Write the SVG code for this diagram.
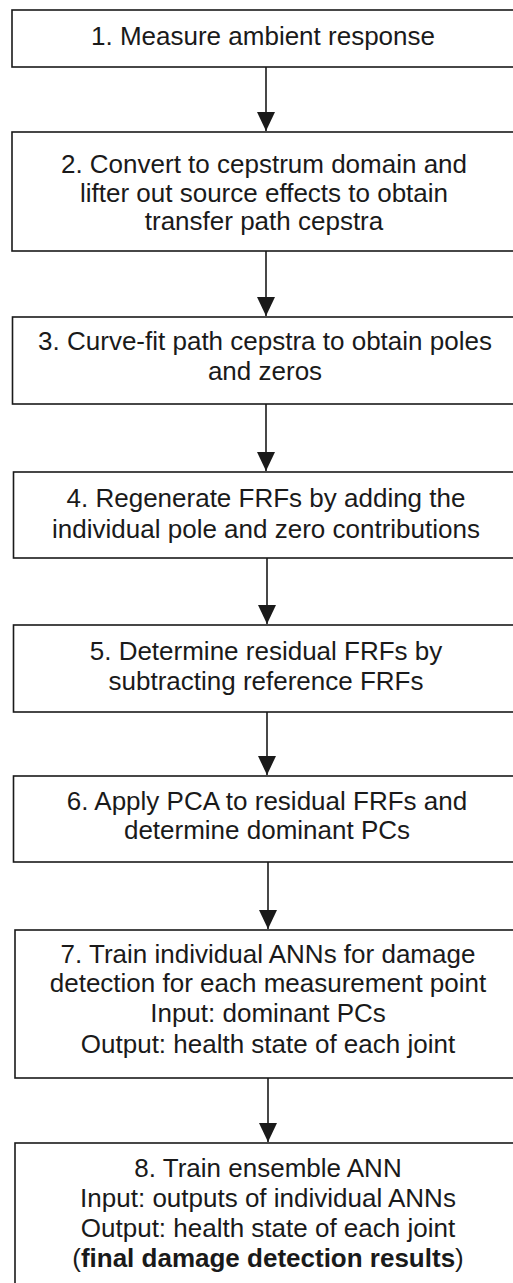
<svg xmlns="http://www.w3.org/2000/svg" width="513" height="1283" viewBox="0 0 513 1283">
<style>
.box{fill:#fff;stroke:#1a1a1a;stroke-width:1.6}
.t{font-family:"Liberation Sans",Arial,sans-serif;font-size:26px;fill:#1a1a1a;text-anchor:middle}
.b{font-weight:bold}
.c{stroke:#1a1a1a;stroke-width:1.6;fill:none}
</style>
<defs>
<marker id="ah" markerWidth="19" markerHeight="18" refX="19" refY="9" orient="auto" markerUnits="userSpaceOnUse" viewBox="0 0 19 18">
<path d="M0,0 L19,9 L0,18 Z" fill="#1a1a1a"/>
</marker>
</defs>
<rect width="513" height="1283" fill="#fff"/>
<g id="n1"><rect class="box" x="12" y="10" width="510" height="57"/><text class="t" x="263" y="45">1. Measure ambient response</text></g>
<g id="n2"><rect class="box" x="12" y="132" width="510" height="119"/><text class="t" x="264" y="173">2. Convert to cepstrum domain and</text><text class="t" x="264" y="202">lifter out source effects to obtain</text><text class="t" x="264" y="230">transfer path cepstra</text></g>
<g id="n3"><rect class="box" x="12.5" y="317" width="510" height="87"/><text class="t" x="265" y="350">3. Curve-fit path cepstra to obtain poles</text><text class="t" x="265" y="380">and zeros</text></g>
<g id="n4"><rect class="box" x="13.5" y="472" width="510" height="86"/><text class="t" x="266" y="507">4. Regenerate FRFs by adding the</text><text class="t" x="266" y="538">individual pole and zero contributions</text></g>
<g id="n5"><rect class="box" x="13.5" y="625" width="510" height="87"/><text class="t" x="266" y="660">5. Determine residual FRFs by</text><text class="t" x="266" y="690">subtracting reference FRFs</text></g>
<g id="n6"><rect class="box" x="13.5" y="776" width="510" height="86"/><text class="t" x="267" y="810">6. Apply PCA to residual FRFs and</text><text class="t" x="267" y="839">determine dominant PCs</text></g>
<g id="n7"><rect class="box" x="15" y="930" width="510" height="148"/><text class="t" x="268" y="963">7. Train individual ANNs for damage</text><text class="t" x="268" y="992">detection for each measurement point</text><text class="t" x="268" y="1022">Input: dominant PCs</text><text class="t" x="268" y="1053">Output: health state of each joint</text></g>
<g id="n8"><rect class="box" x="15" y="1143" width="510" height="150"/><text class="t" x="268" y="1177">8. Train ensemble ANN</text><text class="t" x="268" y="1207">Input: outputs of individual ANNs</text><text class="t" x="268" y="1237">Output: health state of each joint</text><text class="t" x="268" y="1267">(<tspan class="b">final damage detection results</tspan>)</text></g>
<g id="connectors">
<line class="c" x1="266" y1="67" x2="266" y2="131" marker-end="url(#ah)"/>
<line class="c" x1="266" y1="251" x2="266" y2="316" marker-end="url(#ah)"/>
<line class="c" x1="266" y1="404" x2="266" y2="471" marker-end="url(#ah)"/>
<line class="c" x1="267" y1="558" x2="267" y2="624" marker-end="url(#ah)"/>
<line class="c" x1="267" y1="712" x2="267" y2="775" marker-end="url(#ah)"/>
<line class="c" x1="268" y1="862" x2="268" y2="929" marker-end="url(#ah)"/>
<line class="c" x1="268" y1="1078" x2="268" y2="1142" marker-end="url(#ah)"/>
</g>
</svg>
